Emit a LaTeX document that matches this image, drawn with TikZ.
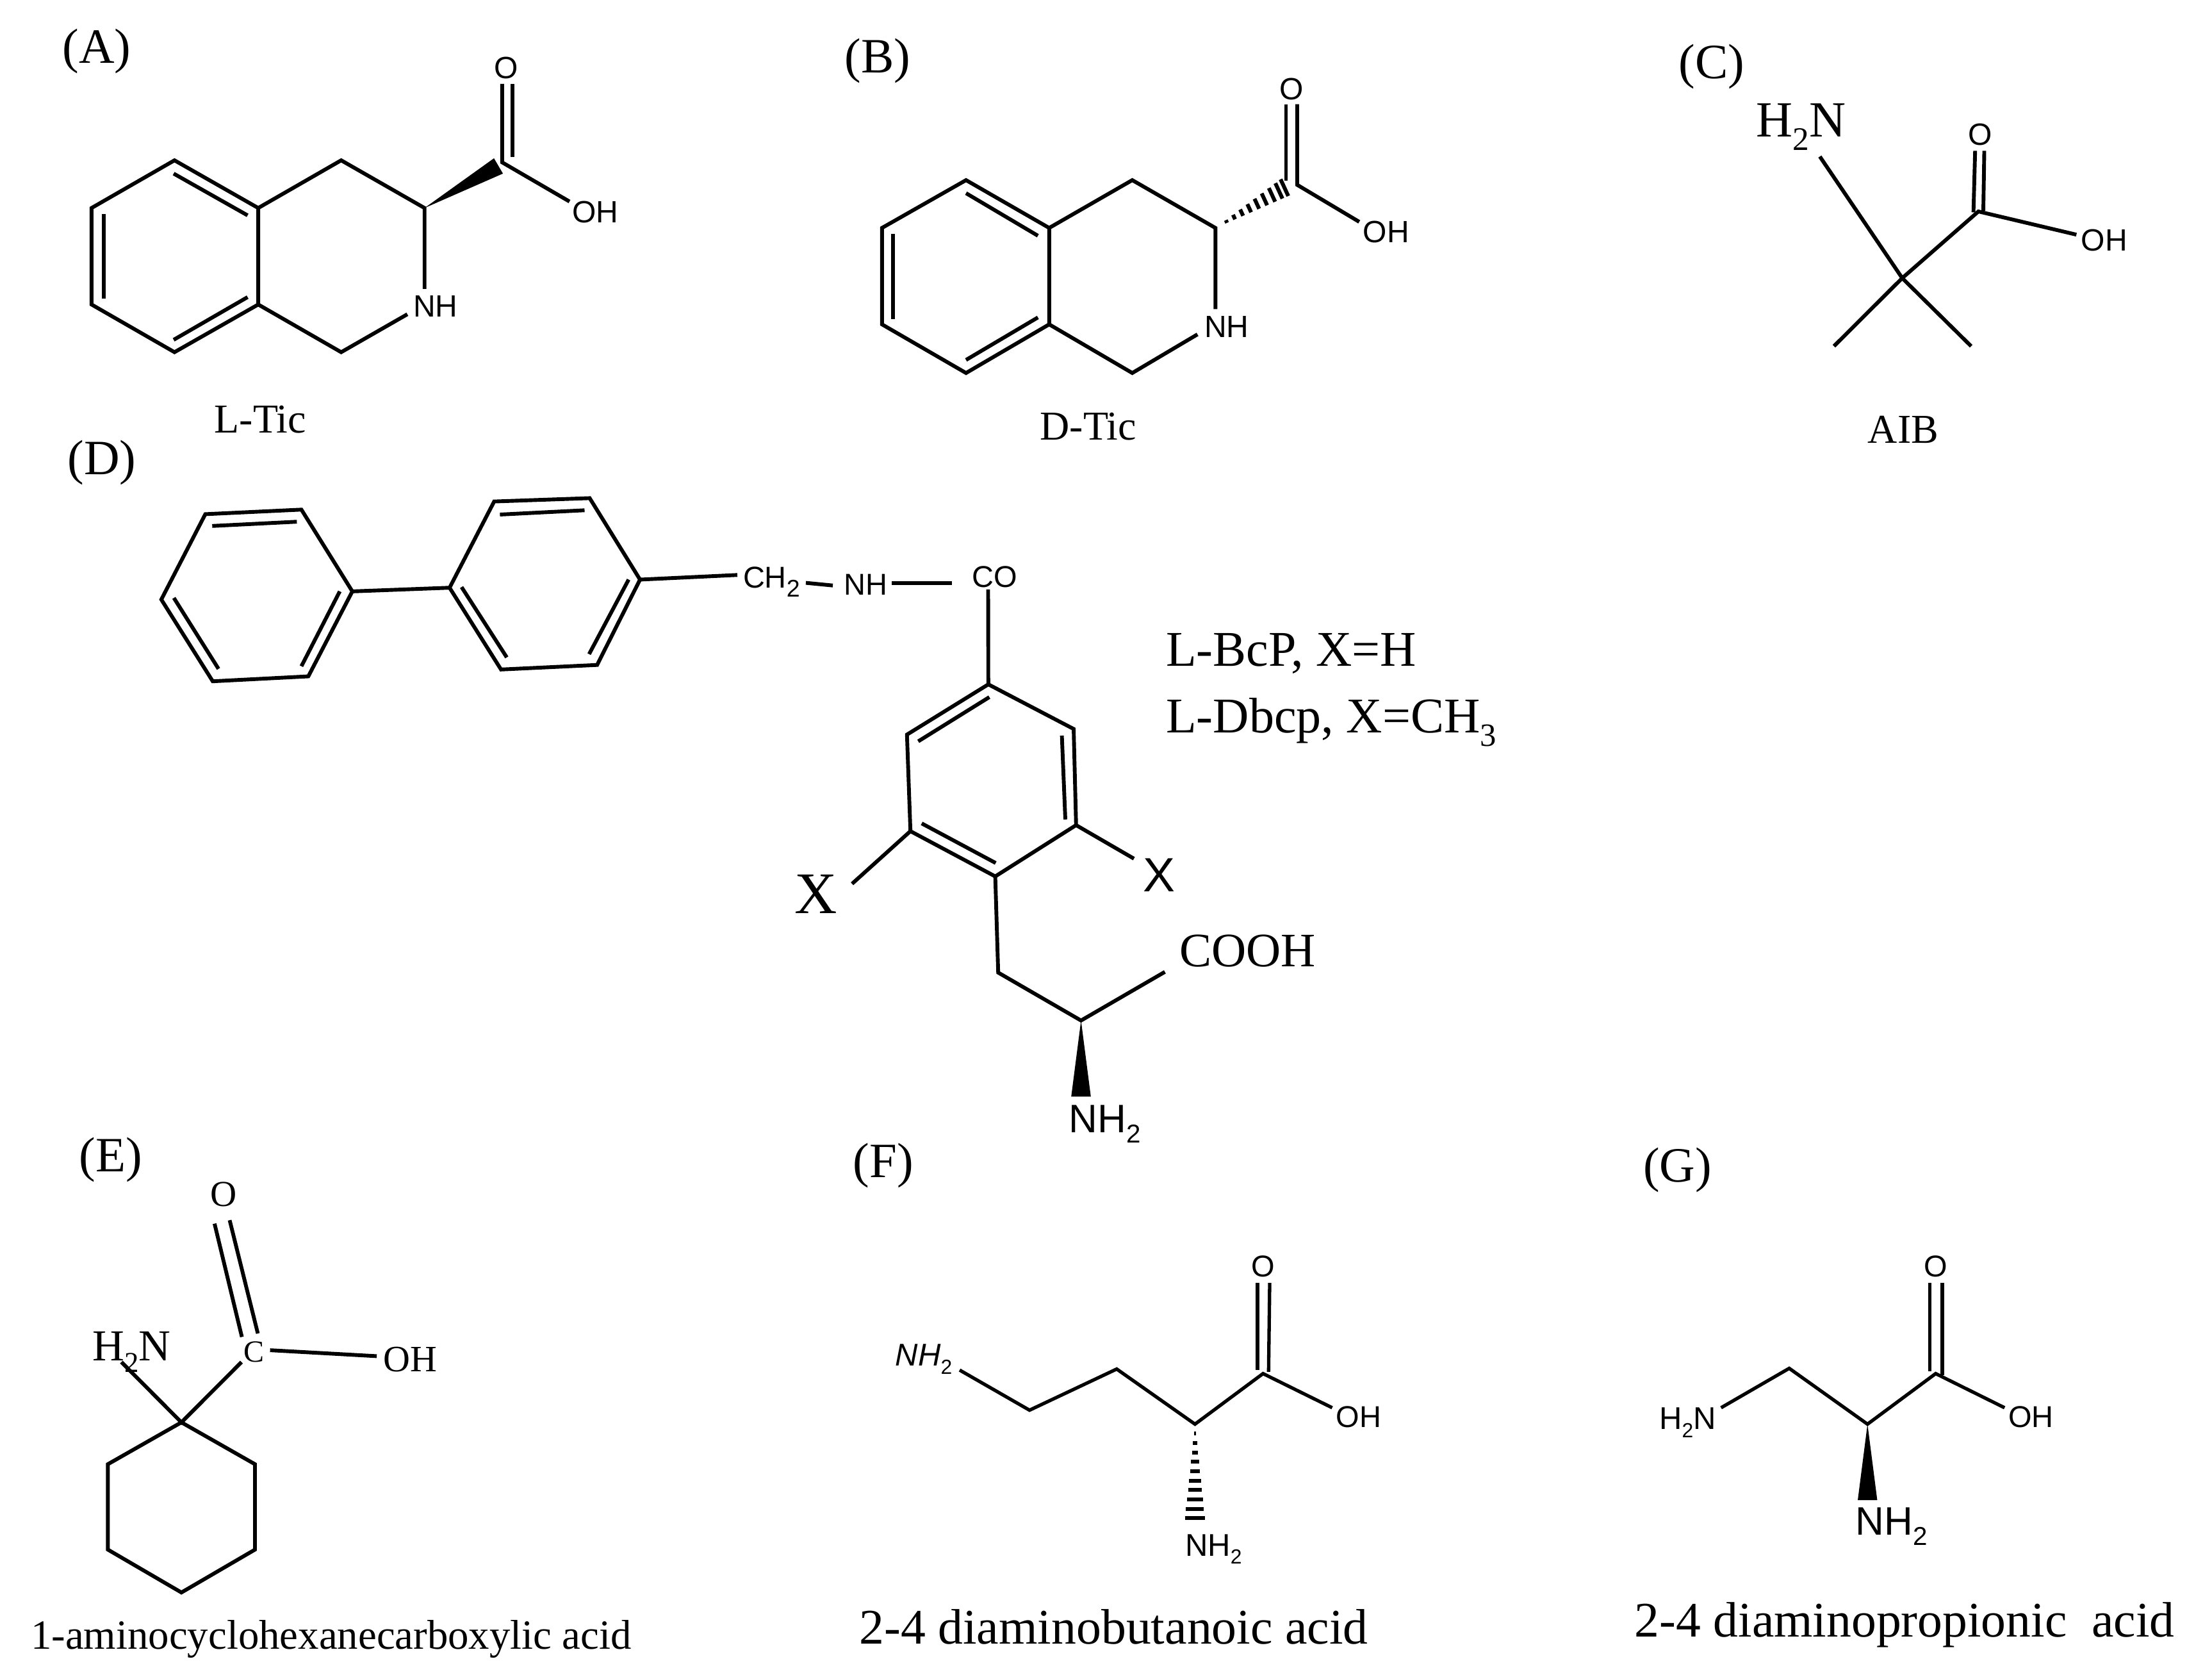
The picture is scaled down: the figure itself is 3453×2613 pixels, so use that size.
\documentclass[tikz,border=0pt]{standalone}
\usepackage{fontspec}
\setmainfont{Liberation Serif}
\setsansfont{Liberation Sans}
\usetikzlibrary{calc}
\newcommand\sbt[1]{\raisebox{-0.26em}{\scalebox{0.65}{#1}}}
\newcommand\sbtb[1]{\raisebox{-0.3em}{\scalebox{0.8}{#1}}}
\tikzset{
  bond/.style={draw=black,line width=5.9pt,line join=miter},
  thinbond/.style={draw=black,line width=5.3pt,line join=miter},
  hashl/.style={draw=black,line width=6pt},
  wedge/.style={fill=black,draw=none},
  ser/.style={inner sep=0pt,text=black,font=\fontsize{#1}{#1}\selectfont},
  san/.style={inner sep=0pt,text=black,font=\sffamily\fontsize{#1}{#1}\selectfont},
  sani/.style={inner sep=0pt,text=black,font=\sffamily\itshape\fontsize{#1}{#1}\selectfont},
}
\begin{document}
\begin{tikzpicture}[x=1pt,y=-1pt]
\useasboundingbox (0,0) rectangle (3453,2613);
% ---------- A
\node[ser=77] (lA) at (151,80) {(A)};
\coordinate (a1) at (272.4,250.2); \coordinate (a2) at (142.9,324.6); \coordinate (a3) at (142.9,475.2);
\coordinate (a4) at (272.4,549.6); \coordinate (a5) at (403.1,475.2); \coordinate (a6) at (403.1,324.6);
\coordinate (a7) at (532.6,250.2); \coordinate (a8) at (662.7,324.6); \coordinate (a9) at (662.7,450.9);
\coordinate (a10) at (635.9,490.4); \coordinate (a11) at (532.6,549.6);
\coordinate (aC) at (783.9,253.4); \coordinate (aO1) at (783.9,130.9); \coordinate (aO2) at (799.8,130.9);
\coordinate (aO3) at (799.8,244.7); \coordinate (aOH) at (889,314.5);
\coordinate (aW1) at (771.1,247); \coordinate (aW2) at (785.1,270.9);
\coordinate (ai1) at (271.1,270.9); \coordinate (ai2) at (386.5,336.1);
\coordinate (ai3) at (162,334.3); \coordinate (ai4) at (162,466);
\coordinate (ai5) at (271.1,530.3); \coordinate (ai6) at (386.5,463.7);
\draw[bond] (a1)--(a2)--(a3)--(a4)--(a5)--(a6)--cycle;
\draw[bond] (a6)--(a7)--(a8)--(a9);
\draw[bond] (a5)--(a11)--(a10);
\draw[bond] (ai1)--(ai2); \draw[bond] (ai3)--(ai4); \draw[bond] (ai5)--(ai6);
\draw[bond] (aO1)--(aC)--(aOH); \draw[bond] (aO2)--(aO3);
\fill[wedge] (a8)--(aW1)--(aW2)--cycle;
\node[san=48] (aOl) at (790.2,105.6) {O};
\node[san=48] (aOHl) at (929.3,330.6) {OH};
\node[san=48] (aNl) at (679.9,477.5) {NH};
\node[ser=64] (aT) at (406.3,654.3) {L-Tic};
% ---------- B
\node[ser=77] (lB) at (1370,95) {(B)};
\coordinate (b1) at (1508,281.1); \coordinate (b2) at (1376.8,355.7); \coordinate (b3) at (1376.8,506.2);
\coordinate (b4) at (1508,582.1); \coordinate (b5) at (1637.8,506.2); \coordinate (b6) at (1637.8,355.7);
\coordinate (b7) at (1767.5,281.1); \coordinate (b8) at (1897.3,355.7); \coordinate (b9) at (1897.3,482.3);
\coordinate (b10) at (1869.3,521.8); \coordinate (b11) at (1767.5,582.1);
\coordinate (bC) at (2025,288.5); \coordinate (bO1) at (2007.5,162.7); \coordinate (bO1b) at (2007.5,282);
\coordinate (bO2) at (2025,162.7); \coordinate (bOH) at (2121.8,346.2);
\coordinate (bW1) at (1999,279.8); \coordinate (bW2) at (2011,305.9);
\coordinate (bi1) at (1508,301.5); \coordinate (bi2) at (1620.2,367.9);
\coordinate (bi3) at (1394.3,365.3); \coordinate (bi4) at (1394.3,498);
\coordinate (bi5) at (1508,561.7); \coordinate (bi6) at (1620.2,495.4);
\draw[bond] (b1)--(b2)--(b3)--(b4)--(b5)--(b6)--cycle;
\draw[bond] (b6)--(b7)--(b8)--(b9);
\draw[bond] (b5)--(b11)--(b10);
\draw[bond] (bi1)--(bi2); \draw[bond] (bi3)--(bi4); \draw[bond] (bi5)--(bi6);
\draw[bond] (bO2)--(bC)--(bOH); \draw[bond] (bO1)--(bO1b);
\foreach \t in {0.16,0.27,0.38,0.49,0.60,0.71,0.82,0.92,1.0}
  \draw[hashl] ($(b8)!\t!(bW1)$)--($(b8)!\t!(bW2)$);
\node[san=48] (bOl) at (2016.6,138.9) {O};
\node[san=48] (bOHl) at (2163.9,362.2) {OH};
\node[san=48] (bNl) at (1914.9,509.7) {NH};
\node[ser=64] (bT) at (1698.8,665.8) {D-Tic};
% ---------- C
\node[ser=77] (lC) at (2672,104) {(C)};
\coordinate (c0) at (2969.4,434); \coordinate (cN) at (2840.8,244.3); \coordinate (cM1) at (2862.8,540.3);
\coordinate (cM2) at (3077,540.3); \coordinate (cC) at (3088.3,330); \coordinate (cOH) at (3241.3,366.2);
\coordinate (cO1) at (3083.2,235.4); \coordinate (cO1b) at (3080.6,331.3);
\coordinate (cO2) at (3097.5,235.4); \coordinate (cO2b) at (3096,329);
\draw[bond] (cN)--(c0); \draw[bond] (cM1)--(c0)--(cM2);
\draw[bond] (c0)--(cC)--(cOH);
\draw[bond] (cO1)--(cO1b); \draw[bond] (cO2)--(cO2b);
\node[san=48] (cOl) at (3090.8,209.9) {O};
\node[san=48] (cOHl) at (3284.7,374.6) {OH};
\node[ser=79,anchor=base west] (cNl) at (2741.3,213.9) {H\sbt{2}N};
\node[ser=64] (cT) at (2970.9,670.6) {AIB};
% ---------- D
\node[ser=77] (lD) at (159,722) {(D)};
\coordinate (d1) at (320.5,802.4); \coordinate (d2) at (470.5,795.3); \coordinate (d3) at (550,922.9);
\coordinate (d4) at (481.3,1055.5); \coordinate (d5) at (332.1,1063.2); \coordinate (d6) at (251.8,935.6);
\coordinate (di1) at (331.3,820.8); \coordinate (di2) at (463.4,814.2);
\coordinate (di3) at (271.4,933.1); \coordinate (di4) at (341.1,1043.8);
\coordinate (di5) at (530.4,922.9); \coordinate (di6) at (470.5,1039.7);
\coordinate (e1) at (771.4,782.6); \coordinate (e2) at (920.5,777.4); \coordinate (e3) at (999.1,904.5);
\coordinate (e4) at (932.1,1037.7); \coordinate (e5) at (782.1,1044.8); \coordinate (e6) at (701.8,917.2);
\coordinate (ei1) at (780.4,803); \coordinate (ei2) at (912.5,796.3);
\coordinate (ei3) at (720.5,916.2); \coordinate (ei4) at (791.1,1025.9);
\coordinate (ei5) at (981.3,904.5); \coordinate (ei6) at (919.6,1020.8);
\draw[bond] (d1)--(d2)--(d3)--(d4)--(d5)--(d6)--cycle;
\draw[bond] (di1)--(di2); \draw[bond] (di3)--(di4); \draw[bond] (di5)--(di6);
\draw[bond] (e1)--(e2)--(e3)--(e4)--(e5)--(e6)--cycle;
\draw[bond] (ei1)--(ei2); \draw[bond] (ei3)--(ei4); \draw[bond] (ei5)--(ei6);
\draw[bond] (d3)--(e6);
\coordinate (f1) at (1150.9,897.3); \coordinate (f2) at (1258,909.6); \coordinate (f3) at (1300,913.7);
\coordinate (f4) at (1392,909.6); \coordinate (f5) at (1485.7,909.6); \coordinate (f6) at (1542.5,919.8);
\draw[bond] (e3)--(f1); \draw[bond] (f2)--(f3); \draw[bond] (f4)--(f5);
\node[san=47,anchor=base west] (dCH) at (1159.8,917.8) {CH\sbtb{2}};
\node[san=47] (dNH) at (1351.8,912.1) {NH};
\node[san=47] (dCO) at (1552.7,899.9) {CO};
\coordinate (g1) at (1542.8,1068); \coordinate (g2) at (1415.8,1146.4); \coordinate (g3) at (1421.2,1297.1);
\coordinate (g4) at (1553.6,1367.7); \coordinate (g5) at (1679.8,1287.7); \coordinate (g6) at (1676,1137.6);
\coordinate (gi1) at (1544.4,1087.9); \coordinate (gi2) at (1433.4,1156.9);
\coordinate (gi3) at (1657.6,1148); \coordinate (gi4) at (1663,1278.8);
\coordinate (gi5) at (1438.8,1285); \coordinate (gi6) at (1554.3,1346.8);
\draw[bond] (f6)--(g1);
\draw[bond] (g1)--(g2)--(g3)--(g4)--(g5)--(g6)--cycle;
\draw[bond] (gi1)--(gi2); \draw[bond] (gi3)--(gi4); \draw[bond] (gi5)--(gi6);
\coordinate (gX1) at (1330.1,1379.2); \coordinate (gX2) at (1770.1,1340);
\draw[bond] (g3)--(gX1); \draw[bond] (g5)--(gX2);
\coordinate (h1) at (1558.2,1517.8); \coordinate (h2) at (1687.5,1592.6); \coordinate (h3) at (1818.4,1516.7);
\coordinate (hW1) at (1672.2,1711.3); \coordinate (hW2) at (1702.8,1711.3);
\draw[bond] (g4)--(h1)--(h2)--(h3);
\fill[wedge] (h2)--(hW1)--(hW2)--cycle;
\node[ser=92] (dX1) at (1274.2,1394.9) {X};
\node[san=75] (dX2) at (1809.9,1366.1) {X};
\node[ser=75] (dCOOH) at (1947.7,1483.8) {COOH};
\node[san=62,anchor=base west] (dNH2) at (1668.4,1767.8) {NH\sbt{2}};
\node[ser=78,anchor=base west] (dT1) at (1819.9,1039.2) {L-BcP, X=H};
\node[ser=78,anchor=base west] (dT2) at (1819.9,1143.8) {L-Dbcp, X=CH\sbt{3}};
% ---------- E
\node[ser=77] (lE) at (173,1810) {(E)};
\coordinate (k1) at (283.2,2219.7); \coordinate (k2) at (168.4,2285); \coordinate (k3) at (168.4,2418.3);
\coordinate (k4) at (283.2,2485.2); \coordinate (k5) at (398,2418.3); \coordinate (k6) at (398,2285);
\coordinate (kN) at (189.5,2125.6); \coordinate (kC) at (377,2125.6);
\coordinate (kO1) at (334.9,1909.6); \coordinate (kO1b) at (377.6,2086.4);
\coordinate (kO2) at (358.5,1904.2); \coordinate (kO2b) at (402.5,2081);
\coordinate (kH1) at (421.6,2107.1); \coordinate (kH2) at (588.1,2116.4);
\draw[bond] (k1)--(k2)--(k3)--(k4)--(k5)--(k6)--cycle;
\draw[bond] (kN)--(k1)--(kC);
\draw[bond] (kO1)--(kO1b); \draw[bond] (kO2)--(kO2b); \draw[bond] (kH1)--(kH2);
\node[ser=48] (kCl) at (396.1,2109.8) {C};
\node[ser=57] (kOl) at (348.9,1863.4) {O};
\node[ser=58] (kOHl) at (640.4,2121.8) {OH};
\node[ser=69,anchor=base west] (kNl) at (144.2,2123.4) {H\sbt{2}N};
\node[ser=64.8,anchor=base west] (kT) at (48,2573.4) {1-aminocyclohexanecarboxylic acid};
% ---------- F
\node[ser=77] (lF) at (1379,1819) {(F)};
\coordinate (m1) at (1498,2138.1); \coordinate (m2) at (1607.1,2200.7); \coordinate (m3) at (1743.2,2136.5);
\coordinate (m4) at (1865.4,2222.5); \coordinate (m5) at (1971.6,2143.6); \coordinate (m6) at (2079.6,2196.9);
\coordinate (mO1) at (1963,2002.1); \coordinate (mO1b) at (1963,2138.1);
\coordinate (mO2) at (1982,2002.1); \coordinate (mO2b) at (1980.3,2140.9);
\coordinate (mW1) at (1849.9,2369.4); \coordinate (mW2) at (1880.9,2369.4);
\draw[thinbond] (m1)--(m2)--(m3)--(m4)--(m5)--(m6);
\draw[thinbond] (mO1)--(mO1b); \draw[thinbond] (mO2)--(mO2b);
\foreach \t in {0.1,0.2,0.3,0.4,0.5,0.6,0.7,0.8,0.9,1.0}
  \draw[hashl] ($(m4)!\t!(mW1)$)--($(m4)!\t!(mW2)$);
\node[sani=49,anchor=base west] (mN1) at (1397.6,2131.6) {NH\sbt{\normalfont\sffamily 2}};
\node[san=49,anchor=base west] (mN2) at (1850,2428.1) {NH\sbt{2}};
\node[san=47] (mOl) at (1971.6,1976.5) {O};
\node[san=47] (mOHl) at (2120.9,2211.6) {OH};
\node[ser=77.7,anchor=base west] (mT) at (1341.3,2565.2) {2-4 diaminobutanoic acid};
% ---------- G
\node[ser=77] (lG) at (2618.5,1826.4) {(G)};
\coordinate (n1) at (2686.6,2196.9); \coordinate (n2) at (2793,2135.4); \coordinate (n3) at (2915.2,2222.5);
\coordinate (n4) at (3021.6,2143.6); \coordinate (n5) at (3129.2,2196.9);
\coordinate (nO1) at (3012.5,2002.1); \coordinate (nO1b) at (3012.5,2139.8);
\coordinate (nO2) at (3031.9,2002.1); \coordinate (nO2b) at (3031.9,2146.3);
\coordinate (nW1) at (2900,2341); \coordinate (nW2) at (2930.4,2341);
\draw[thinbond] (n1)--(n2)--(n3)--(n4)--(n5);
\draw[thinbond] (nO1)--(nO1b); \draw[thinbond] (nO2)--(nO2b);
\fill[wedge] (n3)--(nW1)--(nW2)--cycle;
\node[san=49,anchor=base west] (nN1) at (2590,2230.6) {H\sbt{2}N};
\node[san=62,anchor=base west] (nN2) at (2896.4,2395.5) {NH\sbt{2}};
\node[san=47] (nOl) at (3021.6,1976.5) {O};
\node[san=47] (nOHl) at (3170.5,2211.6) {OH};
\node[ser=77.6,anchor=base west] (nT) at (2551.7,2554.3) {2-4 diaminopropionic\ \ acid};
\end{tikzpicture}
\end{document}
